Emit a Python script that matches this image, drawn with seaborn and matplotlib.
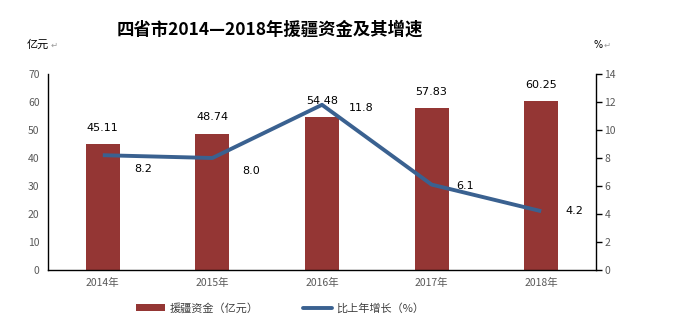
import matplotlib
matplotlib.use("Agg")
import matplotlib.pyplot as plt
import seaborn as sns
import pandas as pd
import numpy as np
from matplotlib.patches import Patch
from matplotlib.lines import Line2D

years = ["2014年", "2015年", "2016年", "2017年", "2018年"]
funds = [45.11, 48.74, 54.48, 57.83, 60.25]
growth = [8.2, 8.0, 11.8, 6.1, 4.2]
growth_labels = ["8.2", "8.0", "11.8", "6.1", "4.2"]

sns.set_theme(style="white")
plt.rcParams['font.family'] = ['Noto Sans CJK SC', 'DejaVu Sans']

BAR = "#943634"
LINE = "#3A6190"
TICK = "#595959"

fig = plt.figure(figsize=(6.75, 3.31), dpi=100)
ax = fig.add_axes([48/675, 1-270/331, (596-48)/675, (270-74)/331])

df = pd.DataFrame({"year": years, "funds": funds, "growth": growth})
sns.barplot(data=df, x="year", y="funds", color=BAR, width=0.31, ax=ax,
            saturation=1, edgecolor="none")
ax.set_ylim(0, 70)
ax.set_yticks(range(0, 71, 10))
ax.set_xlim(-0.5, 4.5)
ax.set_xlabel("")
ax.set_ylabel("")
for s in ["top", "right"]:
    ax.spines[s].set_visible(False)
ax.spines["left"].set_color("black")
ax.spines["bottom"].set_color("black")
ax.spines["left"].set_linewidth(1.0)
ax.spines["bottom"].set_linewidth(1.0)
ax.tick_params(axis="y", length=0, labelsize=7.5, labelcolor=TICK, pad=6)
ax.tick_params(axis="x", length=0, labelsize=7.5, labelcolor=TICK, pad=6)

for i, v in enumerate(funds):
    ax.annotate(f"{v:.2f}", (i, v), xytext=(0, 8), textcoords="offset points",
                ha="center", va="bottom", fontsize=8, color="black",
                family="DejaVu Sans")

ax2 = ax.twinx()
ax2.set_position(ax.get_position())
sns.lineplot(x=np.arange(len(years)), y=growth, ax=ax2, color=LINE, lw=2.8,
             solid_capstyle="butt")
ax2.set_ylim(0, 14)
ax2.set_yticks(range(0, 15, 2))
for s in ["top", "left", "bottom"]:
    ax2.spines[s].set_visible(False)
ax2.spines["right"].set_color("black")
ax2.spines["right"].set_linewidth(1.0)
ax2.tick_params(axis="y", length=4, width=1, color="black", direction="out",
                labelsize=7.5, labelcolor=TICK, pad=2)
ax2.set_xlim(-0.5, 4.5)

offsets = [(29, -10), (28, -9), (28, -2), (24, -1), (24, 0)]
for i, (v, lab) in enumerate(zip(growth, growth_labels)):
    ax2.annotate(lab, (i, v), xytext=offsets[i], textcoords="offset points",
                 ha="center", va="center", fontsize=8, color="black",
                 family="DejaVu Sans")

fig.text(270/675, 1-30/331, "四省市2014—2018年援疆资金及其增速", ha="center",
         va="center", fontsize=12.5, fontweight="bold", color="black")
fig.text(27/675, 1-45/331, "亿元", ha="left", va="center", fontsize=8, color="black")
fig.text(51/675, 1-45/331, "↵", ha="left", va="center", fontsize=6, color="#9a9a9a",
         family=["DejaVu Sans"])
fig.text(593/675, 1-45/331, "%", ha="left", va="center", fontsize=7, color="black",
         family=["DejaVu Sans"])
fig.text(604/675, 1-45/331, "↵", ha="left", va="center", fontsize=6, color="#9a9a9a",
         family=["DejaVu Sans"])

handles = [Patch(facecolor=BAR, edgecolor="none"),
           Line2D([0], [0], color=LINE, lw=2.8)]
fig.legend(handles, ["援疆资金（亿元）", "比上年增长（%）"],
           loc="center", bbox_to_anchor=(280/675, 1-308/331), ncol=2,
           frameon=False, fontsize=8, handlelength=2.6, handleheight=0.6,
           columnspacing=4.0, handletextpad=0.4, labelcolor="#404040")

fig.savefig("out.png", dpi=100)
